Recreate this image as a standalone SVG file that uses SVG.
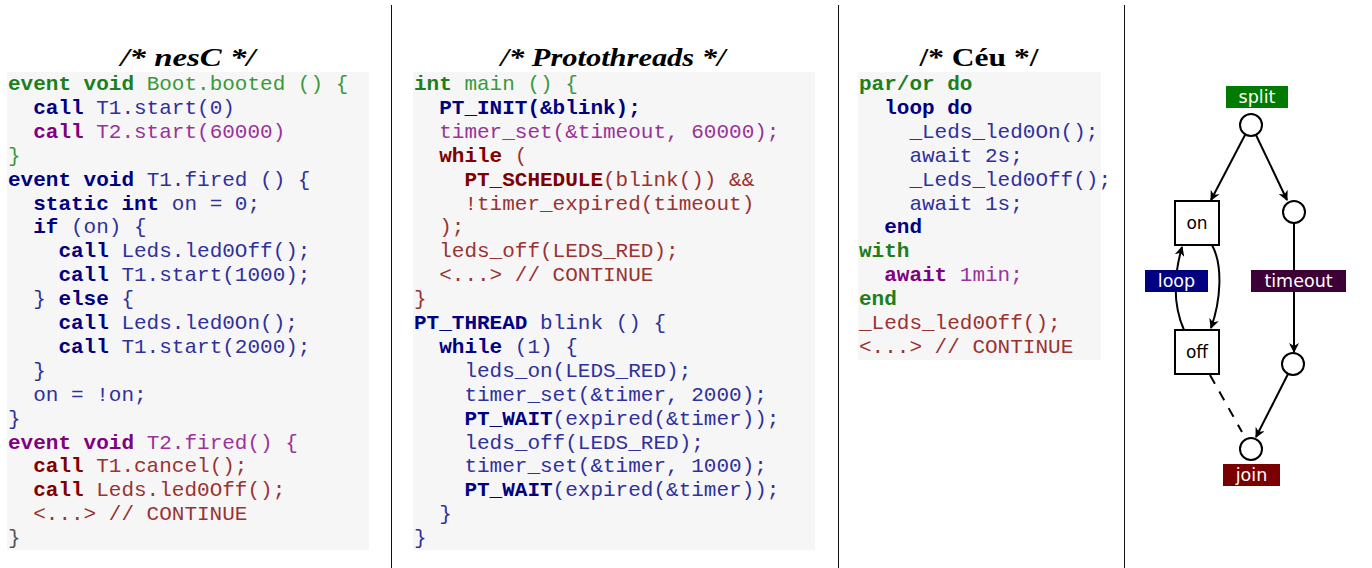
<svg xmlns="http://www.w3.org/2000/svg" width="1372" height="568" viewBox="0 0 1372 568">
<style>
.code{font-family:"Liberation Mono","Courier New",monospace;font-size:21px}
.b{font-weight:bold}
.g{fill:#3a9a3a}.n{fill:#30309c}.p{fill:#993399}.m{fill:#9a3232}.k{fill:#555}
.b.g{fill:#1c7f1c}.b.n{fill:#000080}.b.p{fill:#800080}.b.m{fill:#800000}
.title{font-family:"Liberation Serif","Times New Roman",serif;font-size:26px;font-weight:bold;text-anchor:middle}
.bg{fill:#f6f6f6}
.sep{stroke:#111;stroke-width:1}
.lbl{font-family:"DejaVu Sans",sans-serif;font-size:17.5px;fill:#fff;text-anchor:middle}
.nt{font-family:"DejaVu Sans",sans-serif;font-size:17px;fill:#000;text-anchor:middle}
.node{fill:#fff;stroke:#000;stroke-width:2}
.edge{fill:none;stroke:#000;stroke-width:2}
</style>
<defs>
<marker id="arr" viewBox="0 0 10 10" refX="9" refY="5" markerWidth="10" markerHeight="10" orient="auto" markerUnits="userSpaceOnUse">
<path d="M0,0 L10,5 L0,10 L3,5 z" fill="#000"/>
</marker>
</defs>
<rect width="1372" height="568" fill="#fff"/>
<g id="separators">
<line class="sep" x1="391.5" y1="5" x2="391.5" y2="568"/>
<line class="sep" x1="838.5" y1="5" x2="838.5" y2="568"/>
<line class="sep" x1="1124.5" y1="5" x2="1124.5" y2="568"/>
</g>
<g id="nesc">
<text class="title" x="188" y="66" font-style="italic" textLength="135" lengthAdjust="spacingAndGlyphs">/* nesC */</text>
<rect class="bg" x="7" y="72" width="362" height="478"/>
<g class="code">
<text x="8" y="90"><tspan class="b g">event void</tspan><tspan class="g"> Boot.booted () {</tspan></text>
<text x="33.2" y="113.9"><tspan class="b n">call</tspan><tspan class="n"> T1.start(0)</tspan></text>
<text x="33.2" y="137.8"><tspan class="b p">call</tspan><tspan class="p"> T2.start(60000)</tspan></text>
<text x="8" y="161.7" class="g">}</text>
<text x="8" y="185.6"><tspan class="b n">event void</tspan><tspan class="n"> T1.fired () {</tspan></text>
<text x="33.2" y="209.5"><tspan class="b n">static int</tspan><tspan class="n"> on = 0;</tspan></text>
<text x="33.2" y="233.4"><tspan class="b n">if</tspan><tspan class="n"> (on) {</tspan></text>
<text x="58.4" y="257.3"><tspan class="b n">call</tspan><tspan class="n"> Leds.led0Off();</tspan></text>
<text x="58.4" y="281.2"><tspan class="b n">call</tspan><tspan class="n"> T1.start(1000);</tspan></text>
<text x="33.2" y="305.1"><tspan class="n">} </tspan><tspan class="b n">else</tspan><tspan class="n"> {</tspan></text>
<text x="58.4" y="329"><tspan class="b n">call</tspan><tspan class="n"> Leds.led0On();</tspan></text>
<text x="58.4" y="352.9"><tspan class="b n">call</tspan><tspan class="n"> T1.start(2000);</tspan></text>
<text x="33.2" y="376.8" class="n">}</text>
<text x="33.2" y="400.7" class="n">on = !on;</text>
<text x="8" y="424.6" class="n">}</text>
<text x="8" y="448.5"><tspan class="b p">event void</tspan><tspan class="p"> T2.fired() {</tspan></text>
<text x="33.2" y="472.4"><tspan class="b m">call</tspan><tspan class="m"> T1.cancel();</tspan></text>
<text x="33.2" y="496.3"><tspan class="b m">call</tspan><tspan class="m"> Leds.led0Off();</tspan></text>
<text x="33.2" y="520.2" class="m">&lt;...&gt; // CONTINUE</text>
<text x="8" y="544.1" class="k">}</text>
</g>
</g>
<g id="protothreads">
<text class="title" x="613" y="66" font-style="italic" textLength="225" lengthAdjust="spacingAndGlyphs">/* Protothreads */</text>
<rect class="bg" x="413" y="72" width="402" height="478"/>
<g class="code">
<text x="414" y="90"><tspan class="b g">int</tspan><tspan class="g"> main () {</tspan></text>
<text x="439.2" y="113.9" class="b n">PT_INIT(&amp;blink);</text>
<text x="439.2" y="137.8" class="p">timer_set(&amp;timeout, 60000);</text>
<text x="439.2" y="161.7"><tspan class="b m">while</tspan><tspan class="m"> (</tspan></text>
<text x="464.4" y="185.6"><tspan class="b m">PT_SCHEDULE</tspan><tspan class="m">(blink()) &amp;&amp;</tspan></text>
<text x="464.4" y="209.5" class="m">!timer_expired(timeout)</text>
<text x="439.2" y="233.4" class="m">);</text>
<text x="439.2" y="257.3" class="m">leds_off(LEDS_RED);</text>
<text x="439.2" y="281.2" class="m">&lt;...&gt; // CONTINUE</text>
<text x="414" y="305.1" class="m">}</text>
<text x="414" y="329"><tspan class="b n">PT_THREAD</tspan><tspan class="n"> blink () {</tspan></text>
<text x="439.2" y="352.9"><tspan class="b n">while</tspan><tspan class="n"> (1) {</tspan></text>
<text x="464.4" y="376.8" class="n">leds_on(LEDS_RED);</text>
<text x="464.4" y="400.7" class="n">timer_set(&amp;timer, 2000);</text>
<text x="464.4" y="424.6"><tspan class="b n">PT_WAIT</tspan><tspan class="n">(expired(&amp;timer));</tspan></text>
<text x="464.4" y="448.5" class="n">leds_off(LEDS_RED);</text>
<text x="464.4" y="472.4" class="n">timer_set(&amp;timer, 1000);</text>
<text x="464.4" y="496.3"><tspan class="b n">PT_WAIT</tspan><tspan class="n">(expired(&amp;timer));</tspan></text>
<text x="439.2" y="520.2" class="n">}</text>
<text x="414" y="544.1" class="n">}</text>
</g>
</g>
<g id="ceu">
<text class="title" x="979" y="66" textLength="119" lengthAdjust="spacingAndGlyphs">/* Céu */</text>
<rect class="bg" x="858" y="72" width="243" height="288"/>
<g class="code">
<text x="859" y="90" class="b g">par/or do</text>
<text x="884.2" y="113.9" class="b n">loop do</text>
<text x="909.4" y="137.8" class="n">_Leds_led0On();</text>
<text x="909.4" y="161.7" class="n">await 2s;</text>
<text x="909.4" y="185.6" class="n">_Leds_led0Off();</text>
<text x="909.4" y="209.5" class="n">await 1s;</text>
<text x="884.2" y="233.4" class="b n">end</text>
<text x="859" y="257.3" class="b g">with</text>
<text x="884.2" y="281.2"><tspan class="b p">await</tspan><tspan class="p"> 1min;</tspan></text>
<text x="859" y="305.1" class="b g">end</text>
<text x="859" y="329" class="m">_Leds_led0Off();</text>
<text x="859" y="352.9" class="m">&lt;...&gt; // CONTINUE</text>
</g>
</g>
<g id="connectors">
<line class="edge" x1="1245" y1="135" x2="1211" y2="200" marker-end="url(#arr)"/>
<line class="edge" x1="1256" y1="135" x2="1287" y2="200" marker-end="url(#arr)"/>
<line class="edge" x1="1294" y1="223" x2="1294" y2="352" marker-end="url(#arr)"/>
<line class="edge" x1="1288" y1="374" x2="1256" y2="437" marker-end="url(#arr)"/>
<path class="edge" d="M1212,245 C1223,265 1221,300 1211,328" marker-end="url(#arr)"/>
<path class="edge" d="M1184,330 C1173,305 1174,275 1182,247" marker-end="url(#arr)"/>
<line class="edge" x1="1210" y1="375" x2="1242" y2="432" stroke-dasharray="10,9"/>
</g>
<g id="split">
<rect x="1226" y="86" width="62" height="22" fill="#007a00"/>
<text class="lbl" x="1257" y="103">split</text>
<circle class="node" cx="1251" cy="125" r="11"/>
</g>
<g id="on">
<rect class="node" x="1175" y="201" width="44" height="44"/>
<text class="nt" x="1197" y="229">on</text>
</g>
<g id="c2"><circle class="node" cx="1294" cy="212" r="11"/></g>
<g id="loop">
<rect x="1145" y="270" width="63" height="22" fill="#000080"/>
<text class="lbl" x="1176.5" y="287">loop</text>
</g>
<g id="timeout">
<rect x="1251" y="270" width="95" height="22" fill="#3d0036"/>
<text class="lbl" x="1298.5" y="287">timeout</text>
</g>
<g id="off">
<rect class="node" x="1175" y="330" width="44" height="44"/>
<text class="nt" x="1197" y="358">off</text>
</g>
<g id="c3"><circle class="node" cx="1293" cy="364" r="11"/></g>
<g id="join">
<circle class="node" cx="1251" cy="449" r="11"/>
<rect x="1223" y="464" width="57" height="22" fill="#7a0000"/>
<text class="lbl" x="1251.5" y="481">join</text>
</g>
</svg>
